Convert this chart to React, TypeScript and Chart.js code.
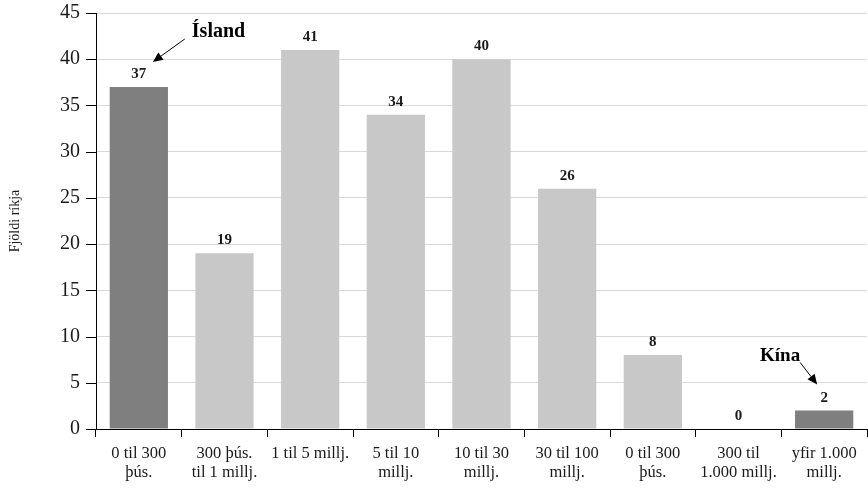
import React, { useEffect, useRef } from "react";
import { Chart, registerables } from "chart.js";

Chart.register(...registerables);

const categories: string[][] = [
  ["0 til 300", "þús."],
  ["300 þús.", "til 1 millj."],
  ["1 til 5 millj."],
  ["5 til 10", "millj."],
  ["10 til 30", "millj."],
  ["30 til 100", "millj."],
  ["0 til 300", "þús."],
  ["300 til", "1.000 millj."],
  ["yfir 1.000", "millj."],
];
const values: number[] = [37, 19, 41, 34, 40, 26, 8, 0, 2];
const highlighted: boolean[] = [true, false, false, false, false, false, false, false, true];
const yTitle = "Fjöldi ríkja";
const annotations = [
  { index: 0, text: "Ísland" },
  { index: 8, text: "Kína" },
];

const FONT = "'Liberation Serif', 'DejaVu Serif', serif";
const DARK = "#7f7f7f";
const LIGHT = "#c8c8c8";
const TEXT = "#1a1a1a";

function arrow(ctx: CanvasRenderingContext2D, x1: number, y1: number, x2: number, y2: number) {
  ctx.save();
  ctx.strokeStyle = "#000";
  ctx.fillStyle = "#000";
  ctx.lineWidth = 1;
  const ang = Math.atan2(y2 - y1, x2 - x1);
  const hl = 10;
  const bx = x2 - hl * Math.cos(ang);
  const by = y2 - hl * Math.sin(ang);
  ctx.beginPath();
  ctx.moveTo(x1, y1);
  ctx.lineTo(bx, by);
  ctx.stroke();
  ctx.beginPath();
  ctx.moveTo(x2, y2);
  ctx.lineTo(bx + 4.5 * Math.sin(ang), by - 4.5 * Math.cos(ang));
  ctx.lineTo(bx - 4.5 * Math.sin(ang), by + 4.5 * Math.cos(ang));
  ctx.closePath();
  ctx.fill();
  ctx.restore();
}

const labelPlugin = {
  id: "labels",
  afterDatasetsDraw(chart: any) {
    const ctx: CanvasRenderingContext2D = chart.ctx;
    const meta = chart.getDatasetMeta(0);
    ctx.save();
    ctx.font = `bold 15px ${FONT}`;
    ctx.fillStyle = TEXT;
    ctx.textAlign = "center";
    ctx.textBaseline = "alphabetic";
    meta.data.forEach((bar: any, i: number) => {
      ctx.fillText(String(values[i]), bar.x, bar.y - 9);
    });
    // y-axis tick marks in black
    const y = chart.scales.y;
    ctx.strokeStyle = "#000";
    ctx.lineWidth = 1;
    y.ticks.forEach((t: any) => {
      const py = Math.round(y.getPixelForValue(t.value)) + 0.5;
      ctx.beginPath();
      ctx.moveTo(y.right - 10, py);
      ctx.lineTo(y.right, py);
      ctx.stroke();
    });
    // annotations
    const a0 = annotations[0];
    const b0 = meta.data[a0.index];
    ctx.font = `bold 20px ${FONT}`;
    ctx.textAlign = "left";
    ctx.fillStyle = "#000";
    ctx.fillText(a0.text, b0.x + 53, b0.y - 50);
    arrow(ctx, b0.x + 46, b0.y - 48, b0.x + 14, b0.y - 25);
    const a1 = annotations[1];
    const b1 = meta.data[a1.index];
    ctx.font = `bold 19px ${FONT}`;
    ctx.textAlign = "right";
    ctx.fillText(a1.text, b1.x - 24, b1.y - 50);
    arrow(ctx, b1.x - 24, b1.y - 48, b1.x - 7, b1.y - 26);
    ctx.restore();
  },
};

export default function App() {
  const ref = useRef<HTMLCanvasElement>(null);
  useEffect(() => {
    document.body.style.margin = "0";
    const chart = new Chart(ref.current!, {
      type: "bar",
      data: {
        labels: categories,
        datasets: [
          {
            data: values,
            backgroundColor: highlighted.map((h) => (h ? DARK : LIGHT)),
            barPercentage: 0.68,
            categoryPercentage: 1,
          },
        ],
      },
      options: {
        animation: false,
        responsive: false,
        maintainAspectRatio: false,
        layout: { padding: { top: 13, right: 1, left: 0, bottom: 0 } },
        plugins: { legend: { display: false }, tooltip: { enabled: false } },
        scales: {
          x: {
            offset: true,
            grid: {
              offset: true,
              drawOnChartArea: false,
              drawTicks: true,
              tickLength: 8,
              color: "#000",
            },
            border: { color: "#000", width: 1 },
            ticks: {
              color: TEXT,
              font: { family: FONT, size: 16.5, lineHeight: 1.15 },
              padding: 7,
              maxRotation: 0,
              autoSkip: false,
            },
            afterFit: (s: any) => {
              s.height = 59;
              s.paddingLeft = 0;
              s.paddingRight = 0;
              s.paddingTop = 0;
              s.paddingBottom = 0;
            },
          },
          y: {
            min: 0,
            max: 45,
            ticks: {
              stepSize: 5,
              color: TEXT,
              font: { family: FONT, size: 20 },
              padding: 16,
            },
            grid: { color: "#d9d9d9", drawTicks: false, tickLength: 10 },
            border: { color: "#000", width: 1 },
            title: {
              display: true,
              text: yTitle,
              color: TEXT,
              font: { family: FONT, size: 14 },
              padding: { top: 7, bottom: 10 },
            },
            afterFit: (s: any) => {
              s.width = 96;
              s.paddingTop = 0;
              s.paddingBottom = 0;
              s.paddingLeft = 0;
              s.paddingRight = 0;
            },
          },
        },
      },
      plugins: [labelPlugin],
    });
    return () => chart.destroy();
  }, []);
  return (
    <div style={{ position: "absolute", left: 0, top: 0, width: 868, height: 488 }}>
      <canvas ref={ref} width={868} height={488} />
    </div>
  );
}
